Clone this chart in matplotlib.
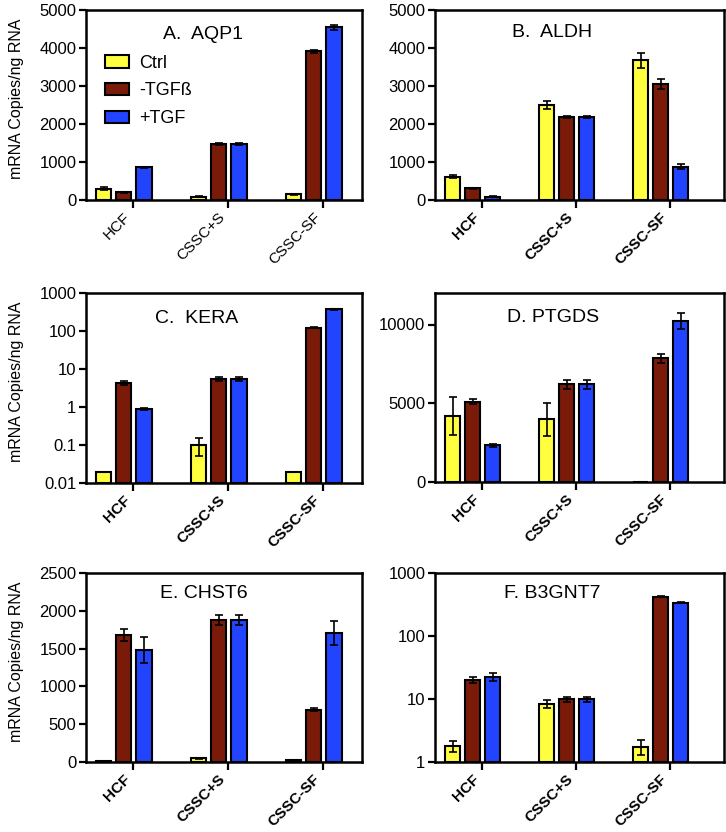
import matplotlib
matplotlib.use("Agg")
import matplotlib.pyplot as plt
import numpy as np

plt.rcParams['font.family'] = ['Liberation Sans', 'DejaVu Sans']

categories = ["HCF", "CSSC+S", "CSSC-SF"]
series = ["Ctrl", "-TGFß", "+TGF"]
colors = ["#FFFF40", "#7A1A08", "#2244FF"]

# A. AQP1
aqp1_vals = [[300, 88, 150], [200, 1470, 3910], [860, 1470, 4540]]
aqp1_err = [[30, 10, 15], [15, 20, 40], [15, 20, 70]]
# B. ALDH
aldh_vals = [[610, 2500, 3680], [310, 2190, 3050], [90, 2190, 880]]
aldh_err = [[40, 110, 200], [15, 25, 130], [10, 25, 60]]
# C. KERA
kera_vals = [[0.02, 0.1, 0.02], [4.3, 5.4, 122], [0.9, 5.4, 370]]
kera_err = [[0.0, 0.05, 0.0], [0.5, 0.6, 5], [0.05, 0.6, 20]]
# D. PTGDS
ptgds_vals = [[4200, 3980, 0], [5100, 6200, 7850], [2320, 6200, 10200]]
ptgds_err = [[1200, 1060, 0], [170, 300, 300], [80, 300, 500]]
# E. CHST6
chst6_vals = [[10, 50, 25], [1680, 1880, 690], [1480, 1880, 1710]]
chst6_err = [[0, 5, 3], [75, 70, 20], [170, 70, 160]]
# F. B3GNT7
b3_vals = [[1.8, 8.4, 1.75], [20, 9.9, 420], [22.5, 9.9, 340]]
b3_err = [[0.35, 1.3, 0.45], [2.0, 1.0, 5], [3.0, 1.0, 5]]

panels = [
    dict(title="A.  AQP1", vals=aqp1_vals, err=aqp1_err, log=False, ylim=(0, 5000),
         yticks=[0, 1000, 2000, 3000, 4000, 5000], ylabels=["0", "1000", "2000", "3000", "4000", "5000"],
         rect=(86, 10, 362, 200), left=True, bold=False, tpos=(0.424, 0.87), legend=True),
    dict(title="B.  ALDH", vals=aldh_vals, err=aldh_err, log=False, ylim=(0, 5000),
         yticks=[0, 1000, 2000, 3000, 4000, 5000], ylabels=["0", "1000", "2000", "3000", "4000", "5000"],
         rect=(435, 10, 724, 200), left=False, bold=True, tpos=(0.405, 0.884), legend=False),
    dict(title="C.  KERA", vals=kera_vals, err=kera_err, log=True, ylim=(0.01, 1000),
         yticks=[0.01, 0.1, 1, 10, 100, 1000], ylabels=["0.01", "0.1", "1", "10", "100", "1000"],
         rect=(86, 293, 362, 483), left=True, bold=True, tpos=(0.40, 0.868), legend=False),
    dict(title="D. PTGDS", vals=ptgds_vals, err=ptgds_err, log=False, ylim=(0, 12000),
         yticks=[0, 5000, 10000], ylabels=["0", "5000", "10000"],
         rect=(435, 293, 724, 482), left=False, bold=True, tpos=(0.408, 0.868), legend=False),
    dict(title="E. CHST6", vals=chst6_vals, err=chst6_err, log=False, ylim=(0, 2500),
         yticks=[0, 500, 1000, 1500, 2000, 2500], ylabels=["0", "500", "1000", "1500", "2000", "2500"],
         rect=(86, 573, 362, 762), left=True, bold=True, tpos=(0.428, 0.894), legend=False),
    dict(title="F. B3GNT7", vals=b3_vals, err=b3_err, log=True, ylim=(1, 1000),
         yticks=[1, 10, 100, 1000], ylabels=["1", "10", "100", "1000"],
         rect=(435, 573, 724, 762), left=False, bold=True, tpos=(0.405, 0.894), legend=False),
]

W, H = 726, 832
fig = plt.figure(figsize=(W / 100, H / 100), dpi=100)

offsets = [-0.31, -0.10, 0.115]
bw = 0.16
x = np.arange(len(categories))

for p in panels:
    x0, y0, x1, y1 = p["rect"]
    ax = fig.add_axes([x0 / W, 1 - y1 / H, (x1 - x0) / W, (y1 - y0) / H])
    if p["log"]:
        ax.set_yscale("log")
    base = p["ylim"][0]
    handles = []
    for i in range(3):
        v = np.array(p["vals"][i], dtype=float)
        e = np.array(p["err"][i], dtype=float)
        xs = x + offsets[i]
        h = ax.bar(xs, v - base, bw, bottom=base, color=colors[i], edgecolor="black",
                   linewidth=1.5, label=series[i], zorder=2)
        handles.append(h)
        mask = e > 0
        ax.errorbar(xs[mask], v[mask], yerr=e[mask], fmt="none", ecolor="black",
                    elinewidth=1.2, capsize=3, capthick=1.2, zorder=3)
    if p["left"]:
        ax.set_xlim(-0.495, 2.41)
    else:
        ax.set_xlim(-0.5, 2.574)
    ax.set_ylim(*p["ylim"])
    ax.set_yticks(p["yticks"])
    ax.set_yticklabels(p["ylabels"], fontsize=12)
    ax.minorticks_off()
    ax.set_xticks(x)
    ax.set_xticklabels(categories, rotation=45, ha="right",
                       fontsize=11, fontweight="bold" if p["bold"] else "normal")
    ax.tick_params(axis="both", direction="out", length=5, width=1.6, pad=2)
    ax.tick_params(axis="x", length=6, pad=1)
    for s in ax.spines.values():
        s.set_linewidth(1.8)
    ax.text(p["tpos"][0], p["tpos"][1], p["title"], transform=ax.transAxes,
            ha="center", va="center", fontsize=14)
    if p["left"]:
        ax.set_ylabel("mRNA Copies/ng RNA", fontsize=11.5)
        ax.yaxis.set_label_coords(-0.225, 0.53)
    if p["legend"]:
        ax.legend(handles=handles, loc="upper left", bbox_to_anchor=(0.069, 0.765),
                  frameon=False, fontsize=13, handlelength=1.3, handleheight=0.7,
                  labelspacing=0.6, handletextpad=0.6, borderpad=0, borderaxespad=0)

fig.savefig("out.png", dpi=100)
